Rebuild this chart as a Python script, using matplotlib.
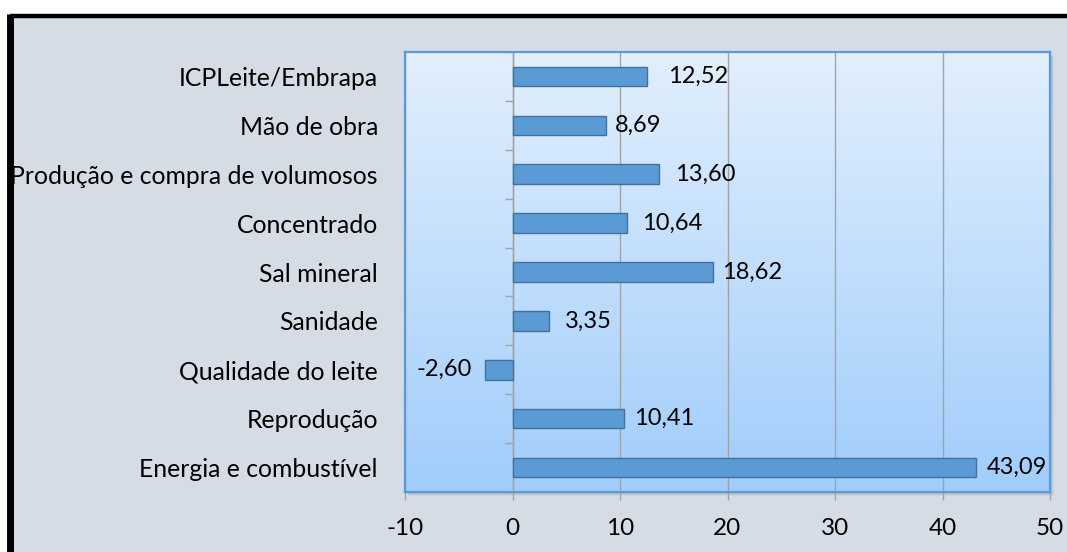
import matplotlib
matplotlib.use("Agg")
import matplotlib.pyplot as plt
import numpy as np
from matplotlib.patches import Rectangle
from matplotlib.lines import Line2D
from matplotlib.colors import LinearSegmentedColormap

# data (top to bottom as shown)
CATEGORIES = [
    "ICPLeite/Embrapa",
    "Mão de obra",
    "Produção e compra de volumosos",
    "Concentrado",
    "Sal mineral",
    "Sanidade",
    "Qualidade do leite",
    "Reprodução",
    "Energia e combustível",
]
VALUES = [12.52, 8.69, 13.60, 10.64, 18.62, 3.35, -2.60, 10.41, 43.09]
X_TICKS = [-10, 0, 10, 20, 30, 40, 50]
# gap (in pt) between bar end and its value label, as placed in the original
LABEL_GAPS = [15, 6.5, 11.5, 11, 7, 11.5, 9, 7, 8]

W, H, DPI = 1067, 552, 100
FONT = ["Lato", "DejaVu Sans"]
plt.rcParams["font.family"] = FONT
plt.rcParams["font.size"] = 17

BG = "#D6DCE5"
BAR = "#5B9BD5"
BAR_EDGE = "#41719C"
GRID = "#A3A3A3"


def fmt(v):
    return f"{v:.2f}".replace(".", ",")


fig = plt.figure(figsize=(W / DPI, H / DPI), dpi=DPI, facecolor="white")

# chart area background and outer frame
fig.add_artist(Rectangle((12 / W, 0), 1, 1 - 17 / H, transform=fig.transFigure,
                         facecolor=BG, edgecolor="none", zorder=-10))
fig.add_artist(Line2D([9.5 / W, 1], [1 - 15.5 / H] * 2, transform=fig.transFigure,
                      color="black", lw=3.2, solid_capstyle="butt"))
fig.add_artist(Line2D([9.5 / W] * 2, [0, 1 - 14 / H], transform=fig.transFigure,
                      color="black", lw=5, solid_capstyle="butt"))

left, right, top, bottom = 405 / W, 1050 / W, 1 - 52 / H, 1 - 492 / H
# drop shadow of the plot area
for i, a in enumerate([0.25, 0.18, 0.1]):
    d = (i + 2) / W
    fig.add_artist(Rectangle((left + d, bottom - (i + 2) / H), right - left, top - bottom,
                             transform=fig.transFigure, facecolor="#8C939C",
                             edgecolor="none", alpha=a, zorder=-5))

ax = fig.add_axes([left, bottom, right - left, top - bottom])
ypos = np.arange(len(CATEGORIES))

# gradient fill of the plot area
cmap = LinearSegmentedColormap.from_list("plotbg", ["#A0CDFB", "#E2EFFD"])
ax.imshow(np.linspace(0, 1, 256).reshape(-1, 1), extent=[-10, 50, len(CATEGORIES) - 0.5, -0.5],
          origin="lower", aspect="auto", cmap=cmap, zorder=0)

ax.set_xlim(-10, 50)
ax.set_ylim(len(CATEGORIES) - 0.5, -0.5)

ax.set_xticks(X_TICKS)
ax.set_xticklabels([str(t) for t in X_TICKS])
ax.grid(axis="x", color=GRID, lw=1.0, zorder=1)
ax.set_axisbelow(False)
ax.tick_params(axis="x", direction="out", length=6, width=1, color=GRID, pad=13,
               labelsize=17.5)

ax.set_yticks(ypos)
ax.set_yticklabels(CATEGORIES)
ax.tick_params(axis="y", length=0, pad=19.5, labelsize=17.8)

for s in ax.spines.values():
    s.set_color(BAR)
    s.set_linewidth(1.6)
    s.set_zorder(5)

# vertical axis at zero with category separator ticks
sec = ax.secondary_yaxis(1 / 6)
sec.set_yticks(np.arange(len(CATEGORIES) + 1) - 0.5)
sec.set_yticklabels([])
sec.tick_params(direction="out", length=5.5, width=1, color=GRID)
sec.spines["left"].set_color(GRID)
sec.spines["left"].set_linewidth(1)

ax.barh(ypos, VALUES, height=0.4, color=BAR, edgecolor=BAR_EDGE, linewidth=1, zorder=3)

for y, v, gap in zip(ypos, VALUES, LABEL_GAPS):
    ax.annotate(fmt(v), (v, y), xytext=(gap if v >= 0 else -gap, 0),
                textcoords="offset points", ha="left" if v >= 0 else "right",
                va="center", fontsize=17, zorder=6)

fig.savefig("out.png", dpi=DPI, facecolor="white")
